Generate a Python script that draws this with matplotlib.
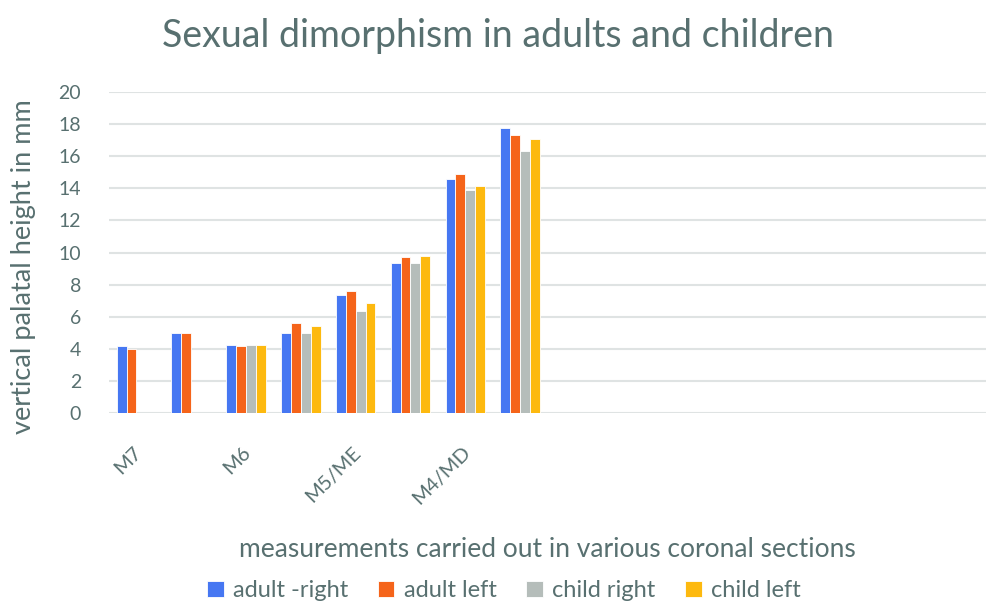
import numpy as np
import matplotlib.pyplot as plt
from matplotlib.transforms import ScaledTranslation

# categories (16 slots on the axis, only the first 8 carry data)
categories = ["M7", "", "M6", "", "M5/ME", "", "M4/MD", "",
              "", "", "", "", "", "", "", ""]
series_names = ["adult -right", "adult left", "child right", "child left"]

adult_right = [4.15, 4.98, 4.24, 5.0, 7.37, 9.35, 14.6, 17.78]
adult_left = [4.0, 5.0, 4.17, 5.59, 7.58, 9.7, 14.91, 17.32]
child_right = [np.nan, np.nan, 4.24, 4.96, 6.38, 9.33, 13.91, 16.34]
child_left = [np.nan, np.nan, 4.22, 5.42, 6.85, 9.8, 14.12, 17.09]

colors = ["#4677f2", "#f5641a", "#b5bdba", "#fdb90f"]
text_color = "#587070"

plt.rcParams['font.family'] = ['Lato', 'DejaVu Sans']

fig = plt.figure(figsize=(10, 6.07), dpi=100)
ax = fig.add_axes([0.109, 0.3196, 0.877, 0.5288])

n_cat = len(categories)
x = np.arange(n_cat)
bar_w = 0.18
all_series = [adult_right, adult_left, child_right, child_left]
for i, (vals, name, col) in enumerate(zip(all_series, series_names, colors)):
    xs = np.arange(len(vals)) + (i - 1.5) * bar_w
    ax.bar(xs, vals, width=bar_w, color=col, edgecolor="white",
           linewidth=0.6, label=name, zorder=3)

ax.set_xlim(-0.5, n_cat - 0.5)
ax.set_ylim(0, 20)
ax.set_yticks(np.arange(0, 21, 2))
ax.grid(axis="y", color="#dfe3e3", linewidth=1.5, zorder=0)
for s in ax.spines.values():
    s.set_visible(False)
ax.tick_params(axis="both", length=0, colors=text_color, labelsize=14)
ax.tick_params(axis="y", pad=20)

# labels every other category, like the source
ax.set_xticks(x[::2])
ax.set_xticklabels(categories[::2], rotation=45, ha="right",
                   rotation_mode="anchor", fontsize=14.5)
ax.tick_params(axis="x", pad=22)
shift = ScaledTranslation(-4 / 100, 0, fig.dpi_scale_trans)
for lbl in ax.get_xticklabels():
    lbl.set_transform(lbl.get_transform() + shift)

ax.set_ylabel("vertical palatal height in mm", fontsize=19.5,
              color=text_color)
ax.yaxis.set_label_coords(-0.083, 0.455)
fig.text(0.547, 0.094, "measurements carried out in various coronal sections",
         ha="center", va="center", fontsize=19, color=text_color)
fig.text(0.498, 0.94, "Sexual dimorphism in adults and children",
         ha="center", va="center", fontsize=27, color=text_color)

leg = fig.legend(loc="center", bbox_to_anchor=(0.504, 0.027), ncol=4,
                 frameon=False, fontsize=17, handlelength=0.7,
                 handleheight=0.7, handletextpad=0.4, columnspacing=1.25)
for t in leg.get_texts():
    t.set_color(text_color)

fig.savefig("out.png", dpi=100)
